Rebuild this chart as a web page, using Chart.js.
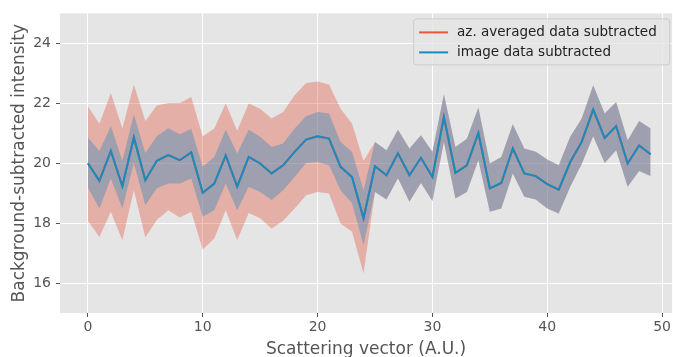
<!DOCTYPE html>
<html>
<head>
<meta charset="utf-8">
<script src="https://cdn.jsdelivr.net/npm/chart.js@4"></script>
<style>
  html, body { margin: 0; padding: 0; background: #ffffff; }
  #wrap { width: 673px; height: 357px; }
</style>
</head>
<body>
<div id="wrap"><canvas id="chart" width="673" height="357"></canvas></div>
<script>
// scattering vector positions
const xs = [0, 1, 2, 3, 4, 5, 6, 7, 8, 9, 10, 11, 12, 13, 14, 15, 16, 17, 18, 19,
            20, 21, 22, 23, 24, 25, 26, 27, 28, 29, 30, 31, 32, 33, 34, 35, 36, 37, 38, 39,
            40, 41, 42, 43, 44, 45, 46, 47, 48, 49];

// image data subtracted (blue)
const imgMean = [20.00, 19.41, 20.41, 19.23, 20.86, 19.43, 20.08, 20.27, 20.10, 20.36,
                 19.01, 19.32, 20.26, 19.22, 20.21, 19.99, 19.66, 19.93, 20.38, 20.79,
                 20.90, 20.82, 19.88, 19.54, 18.16, 19.90, 19.60, 20.33, 19.60, 20.18,
                 19.54, 21.54, 19.68, 19.93, 21.01, 19.16, 19.34, 20.49, 19.66, 19.57,
                 19.30, 19.12, 20.04, 20.71, 21.79, 20.84, 21.24, 19.99, 20.59, 20.30];
const imgUpper = [20.86, 20.41, 21.23, 20.08, 21.63, 20.34, 20.90, 21.17, 20.97, 21.14,
                  19.88, 20.21, 21.12, 20.32, 21.12, 20.88, 20.54, 20.66, 21.16, 21.57,
                  21.71, 21.66, 20.71, 20.38, 19.10, 20.71, 20.43, 21.12, 20.49, 20.93,
                  20.38, 22.30, 20.54, 20.82, 21.86, 19.99, 20.21, 21.30, 20.49, 20.38,
                  20.12, 19.93, 20.88, 21.49, 22.60, 21.66, 22.04, 20.77, 21.41, 21.16];
const imgLower = [19.19, 18.49, 19.49, 18.49, 20.01, 18.60, 19.16, 19.32, 19.32, 19.49,
                  18.21, 18.43, 19.32, 18.43, 19.21, 19.04, 18.77, 19.10, 19.54, 20.01,
                  20.04, 19.93, 19.10, 18.66, 17.27, 19.04, 18.79, 19.50, 18.71, 19.34,
                  18.74, 20.71, 18.82, 19.04, 20.10, 18.38, 18.49, 19.66, 18.88, 18.79,
                  18.49, 18.32, 19.21, 19.97, 20.90, 20.01, 20.43, 19.21, 19.74, 19.57];

// az. averaged data subtracted (red)
const azMean = [20.00, 19.41, 20.41, 19.23, 20.86, 19.43, 20.08, 20.27, 20.10, 20.36,
                19.01, 19.32, 20.26, 19.22, 20.21, 19.99, 19.66, 19.93, 20.38, 20.79,
                20.90, 20.82, 19.88, 19.54, 18.16, 19.90, 19.60, 20.33, 19.60, 20.18,
                19.54, 21.54, 19.68, 19.93, 21.01, 19.16, 19.34, 20.49, 19.66, 19.57,
                19.30, 19.12, 20.04, 20.71, 21.79, 20.84, 21.24, 19.99, 20.59, 20.30];
const azUpper = [21.90, 21.32, 22.34, 21.16, 22.63, 21.41, 21.93, 22.01, 22.01, 22.21,
                 20.90, 21.16, 21.99, 21.08, 21.99, 21.82, 21.49, 21.71, 22.27, 22.68,
                 22.73, 22.63, 21.82, 21.32, 20.08, 20.71, 20.43, 21.12, 20.49, 20.93,
                 20.38, 22.30, 20.54, 20.82, 21.86, 19.99, 20.21, 21.30, 20.49, 20.38,
                 20.12, 19.93, 20.88, 21.49, 22.60, 21.66, 22.04, 20.77, 21.41, 21.16];
const azLower = [18.08, 17.54, 18.38, 17.43, 19.10, 17.52, 18.10, 18.43, 18.19, 18.38,
                 17.12, 17.49, 18.43, 17.43, 18.34, 18.16, 17.82, 18.08, 18.49, 18.93,
                 19.04, 18.99, 17.99, 17.71, 16.32, 19.04, 18.79, 19.50, 18.71, 19.34,
                 18.74, 20.71, 18.82, 19.04, 20.10, 18.38, 18.49, 19.66, 18.88, 18.79,
                 18.49, 18.32, 19.21, 19.97, 20.90, 20.01, 20.43, 19.21, 19.74, 19.57];

const xTicks = [0, 10, 20, 30, 40, 50];
const yTicks = [16, 18, 20, 22, 24];

const RED = '#E8553A';
const BLUE = '#168bc2';
const FONT = "'DejaVu Sans', sans-serif";

function pts(vals) {
    return xs.map((x, i) => ({ x: x, y: vals[i] }));
}

function band(vals, fill, color) {
    return {
        data: pts(vals),
        borderWidth: 0,
        pointRadius: 0,
        backgroundColor: color,
        fill: fill,
        tension: 0
    };
}

// background of the plotting area
const plotBg = {
    id: 'plotBg',
    beforeDraw(chart) {
        const a = chart.chartArea;
        const ctx = chart.ctx;
        ctx.save();
        ctx.fillStyle = '#e5e5e5';
        ctx.fillRect(a.left, a.top, a.right - a.left, a.bottom - a.top);
        ctx.restore();
    }
};

// legend drawn inside the axes, upper right
const innerLegend = {
    id: 'innerLegend',
    afterDraw(chart) {
        const a = chart.chartArea;
        const ctx = chart.ctx;
        const items = [
            { label: 'az. averaged data subtracted', color: RED },
            { label: 'image data subtracted', color: BLUE }
        ];
        const w = 256, h = 46;
        const x0 = a.right - w - 3, y0 = a.top + 5;
        ctx.save();
        ctx.beginPath();
        ctx.roundRect(x0 + 0.5, y0 + 0.5, w, h, 3);
        ctx.fillStyle = 'rgba(229,229,229,0.8)';
        ctx.fill();
        ctx.strokeStyle = '#cccccc';
        ctx.lineWidth = 1;
        ctx.stroke();
        ctx.font = '13.5px ' + FONT;
        ctx.textBaseline = 'middle';
        items.forEach((it, i) => {
            const yy = y0 + 14 + i * 20;
            ctx.beginPath();
            ctx.moveTo(x0 + 6, yy);
            ctx.lineTo(x0 + 35, yy);
            ctx.strokeStyle = it.color;
            ctx.lineWidth = 2;
            ctx.stroke();
            ctx.fillStyle = '#222222';
            ctx.fillText(it.label, x0 + 44, yy);
        });
        ctx.restore();
    }
};

const ctx = document.getElementById('chart').getContext('2d');
new Chart(ctx, {
    type: 'line',
    data: {
        datasets: [
            { label: 'image data subtracted', data: pts(imgMean), borderColor: BLUE, borderWidth: 2, pointRadius: 0, fill: false, tension: 0 },
            { label: 'az. averaged data subtracted', data: pts(azMean), borderColor: RED, borderWidth: 2, pointRadius: 0, fill: false, tension: 0 },
            band(imgUpper, false, 'rgba(0,0,0,0)'),
            band(imgLower, '-1', 'rgba(52,138,189,0.4)'),
            band(azUpper, false, 'rgba(0,0,0,0)'),
            band(azLower, '-1', 'rgba(226,74,51,0.35)')
        ]
    },
    options: {
        responsive: false,
        animation: false,
        layout: { padding: { top: 13, right: 0, left: 0, bottom: 0 } },
        plugins: {
            legend: { display: false },
            tooltip: { enabled: false }
        },
        scales: {
            x: {
                type: 'linear',
                min: -2.43,
                max: 50.87,
                afterFit(scale) { scale.height = 44; },
                afterBuildTicks(scale) { scale.ticks = xTicks.map(v => ({ value: v })); },
                grid: { color: '#ffffff', lineWidth: 1, tickColor: '#555555', tickLength: 4 },
                border: { display: false },
                ticks: { color: '#555555', font: { family: FONT, size: 14 }, padding: 2, maxRotation: 0 },
                title: { display: true, text: 'Scattering vector (A.U.)', color: '#555555', font: { family: FONT, size: 17, lineHeight: 1 }, padding: { top: 0, bottom: -1 } }
            },
            y: {
                min: 15,
                max: 25,
                afterFit(scale) { scale.width = 60; },
                afterBuildTicks(scale) { scale.ticks = yTicks.map(v => ({ value: v })); },
                grid: { color: '#ffffff', lineWidth: 1, tickColor: '#555555', tickLength: 4 },
                border: { display: false },
                ticks: { color: '#555555', font: { family: FONT, size: 14 }, padding: 5 },
                title: { display: true, text: 'Background-subtracted intensity', color: '#555555', font: { family: FONT, size: 17, lineHeight: 1 }, padding: { top: 11, bottom: 0 } }
            }
        }
    },
    plugins: [plotBg, innerLegend]
});
</script>
</body>
</html>
